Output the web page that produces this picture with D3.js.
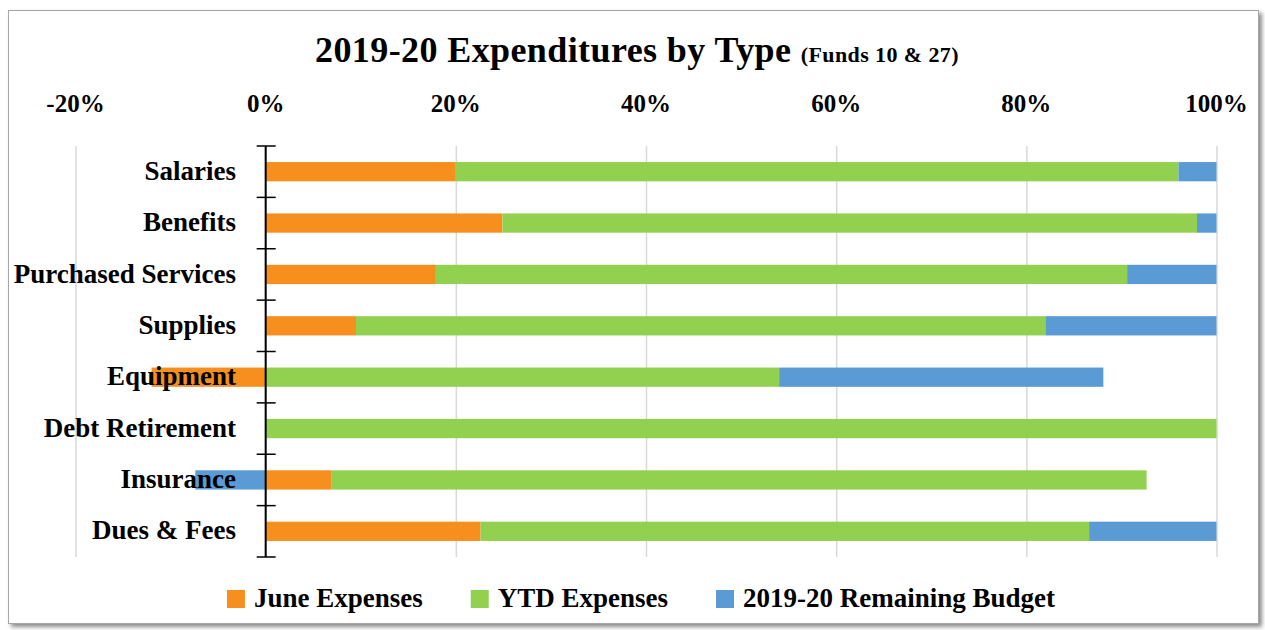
<!DOCTYPE html>
<html>
<head>
<meta charset="utf-8">
<script src="https://cdn.jsdelivr.net/npm/d3@7"></script>
<style>
  body { margin: 0; background: #fff; }
  text { font-family: "Liberation Serif", "Times New Roman", serif; font-weight: bold; fill: #000; }
</style>
</head>
<body>
<div id="chart_root"></div>
<script>
const widthValue = 1265;
const heightValue = 630;

// data (percent of 2019-20 budget)
const categories = ["Salaries", "Benefits", "Purchased Services", "Supplies", "Equipment", "Debt Retirement", "Insurance", "Dues & Fees"];
const juneExpenses = [20.0, 24.9, 17.9, 9.5, -12.0, 0, 6.95, 22.6];
const ytdExpenses = [76.0, 73.05, 72.7, 72.5, 54.0, 100, 85.7, 64.0];
const remainingBudget = [4.0, 2.05, 9.4, 18.0, 34.1, 0, -7.4, 13.4];
const seriesNames = ["June Expenses", "YTD Expenses", "2019-20 Remaining Budget"];
const seriesColors = ["#F78F1E", "#92D050", "#5B9BD5"];
const xTicks = [-20, 0, 20, 40, 60, 80, 100];

const rows = categories.map((c, i) => ({
  cat: c,
  june: juneExpenses[i],
  ytd: ytdExpenses[i],
  remain: remainingBudget[i],
}));

const svg = d3
  .select("#chart_root")
  .append("svg")
  .attr("width", widthValue)
  .attr("height", heightValue);

// frame with a soft shadow
const defs = svg.append("defs");
const shadow = defs.append("filter").attr("id", "shadow").attr("x", "-5%").attr("y", "-5%").attr("width", "110%").attr("height", "110%");
shadow.append("feDropShadow").attr("dx", 3).attr("dy", 3).attr("stdDeviation", 2).attr("flood-color", "#000").attr("flood-opacity", 0.45);

svg
  .append("rect")
  .attr("x", 8.5)
  .attr("y", 10.5)
  .attr("width", 1250)
  .attr("height", 613)
  .attr("fill", "#fff")
  .attr("stroke", "#a6a6a6")
  .attr("stroke-width", 1)
  .attr("filter", "url(#shadow)");

// scales
const xScale = d3.scaleLinear().domain([-20, 100]).range([75.5, 1216.5]);
const yScale = d3
  .scaleBand()
  .domain(categories)
  .range([146, 557])
  .paddingInner(0.625)
  .paddingOuter(0.3125);

// title
const title = svg.append("text").attr("x", 637).attr("y", 62).attr("text-anchor", "middle").style("letter-spacing", "0.4px");
title.append("tspan").style("font-size", "36px").text("2019-20 Expenditures by Type ");
title.append("tspan").style("font-size", "22px").text("(Funds 10 & 27)");

// top tick labels + gridlines
const grid = svg
  .append("g")
  .attr("transform", "translate(0,146)")
  .call(d3.axisTop(xScale).tickValues(xTicks).tickSize(-(557 - 146)).tickFormat(""));
grid.select(".domain").remove();
grid.selectAll("line").attr("stroke", "#d9d9d9").attr("stroke-width", 1.5);

svg
  .append("g")
  .selectAll("text")
  .data(xTicks)
  .join("text")
  .attr("x", (d) => xScale(d))
  .attr("y", 112)
  .attr("text-anchor", "middle")
  .style("font-size", "25px")
  .text((d) => d + "%");

// stacked bars, negatives go left of zero
const stack = d3
  .stack()
  .keys(["june", "ytd", "remain"])
  .offset(d3.stackOffsetDiverging);
const stacked = stack(rows);

svg
  .append("g")
  .selectAll("g")
  .data(stacked)
  .join("g")
  .attr("fill", (d, i) => seriesColors[i])
  .selectAll("rect")
  .data((d) => d)
  .join("rect")
  .attr("x", (d) => xScale(Math.min(d[0], d[1])))
  .attr("width", (d) => Math.abs(xScale(d[1]) - xScale(d[0])))
  .attr("y", (d) => yScale(d.data.cat))
  .attr("height", yScale.bandwidth());

// category axis at zero
const step = yScale.step();
const x0 = xScale(0);
const yAxis = svg.append("g");
yAxis
  .append("line")
  .attr("x1", x0)
  .attr("x2", x0)
  .attr("y1", 146)
  .attr("y2", 557)
  .attr("stroke", "#000")
  .attr("stroke-width", 2);
yAxis
  .selectAll("line.tick")
  .data(d3.range(categories.length + 1))
  .join("line")
  .attr("class", "tick")
  .attr("x1", x0 - 9)
  .attr("x2", x0 + 10)
  .attr("y1", (i) => 146 + i * step)
  .attr("y2", (i) => 146 + i * step)
  .attr("stroke", "#000")
  .attr("stroke-width", 1.5);

// category labels sit on top of the bars
svg
  .append("g")
  .selectAll("text")
  .data(categories)
  .join("text")
  .attr("x", 236)
  .attr("y", (d) => yScale(d) + yScale.bandwidth() / 2)
  .attr("dy", "0.3em")
  .attr("text-anchor", "end")
  .style("font-size", "27px")
  .text((d) => d);

// legend
const legend = svg.append("g");
let lx = 0;
seriesNames.forEach((name, i) => {
  const item = legend.append("g").attr("transform", "translate(" + lx + ",0)");
  item.append("rect").attr("x", 0).attr("y", 590).attr("width", 18).attr("height", 18).attr("fill", seriesColors[i]);
  const t = item.append("text").attr("x", 27).attr("y", 607).style("font-size", "27px").text(name);
  lx += 27 + t.node().getComputedTextLength() + 48;
});
const legendWidth = lx - 48;
legend.attr("transform", "translate(" + (641 - legendWidth / 2) + ",0)");
</script>
</body>
</html>
